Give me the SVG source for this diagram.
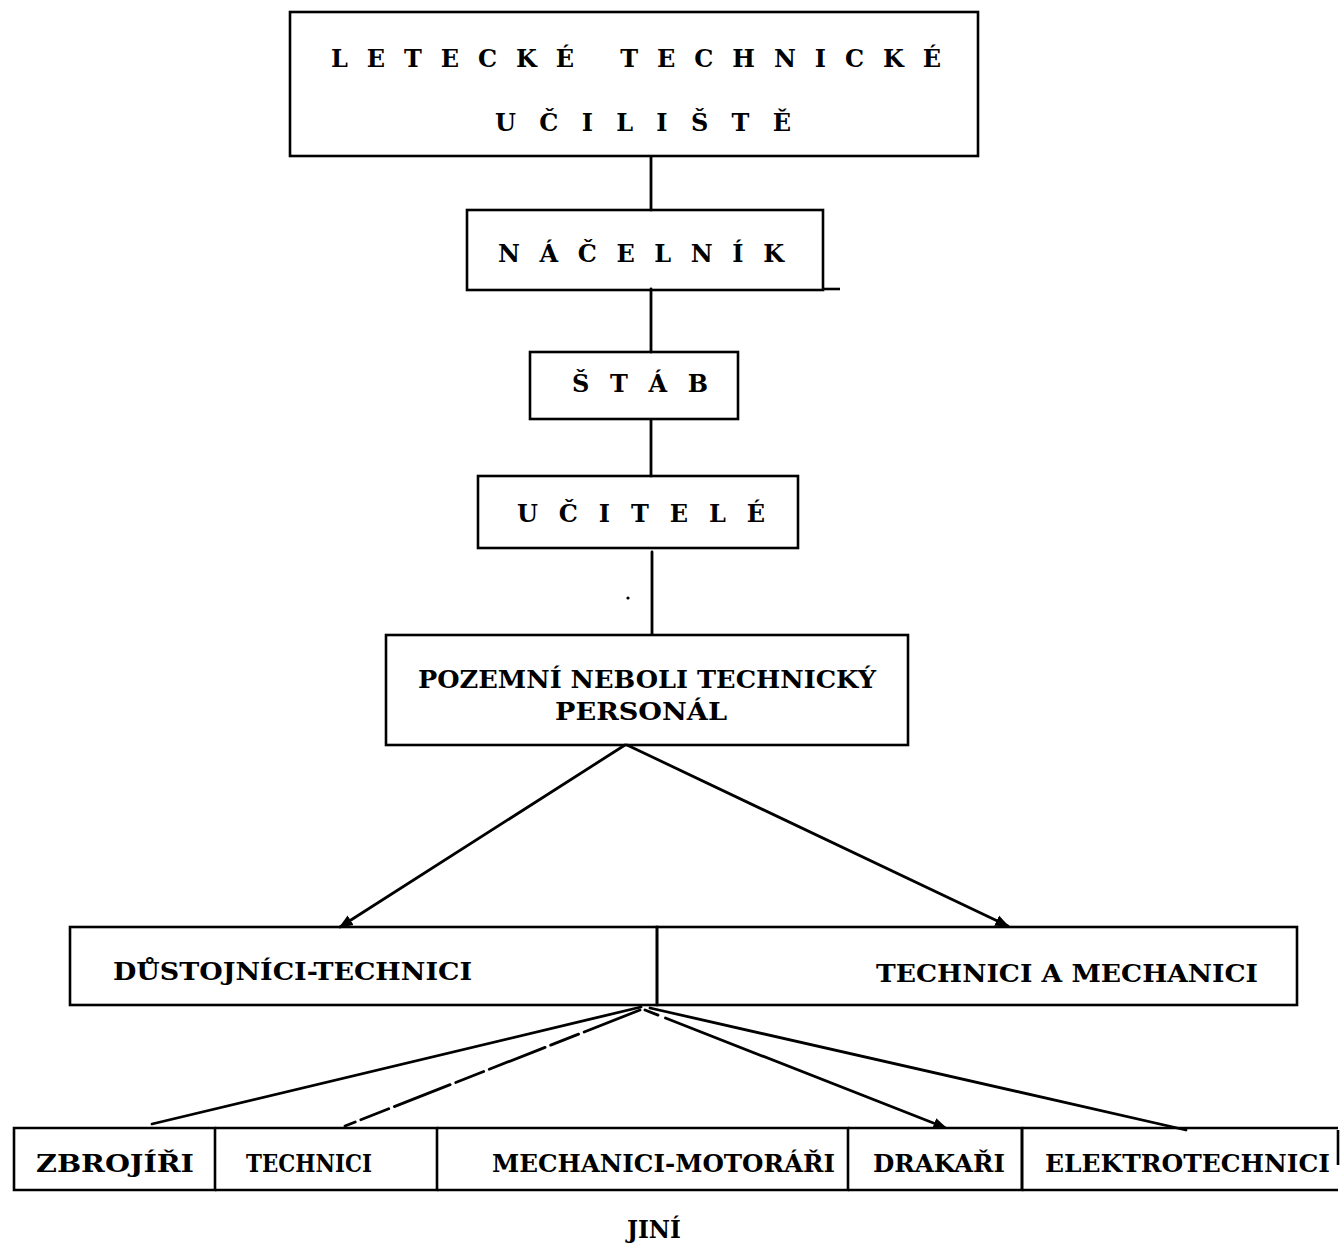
<svg xmlns="http://www.w3.org/2000/svg" width="1344" height="1248" viewBox="0 0 1344 1248">
  <style>
    .box { fill: none; stroke: #000; stroke-width: 2.6; }
    .edge { fill: none; stroke: #000; stroke-width: 2.8; stroke-linecap: round; }
    .t { font-family: "DejaVu Serif", "Liberation Serif", serif; font-weight: bold; fill: #000; white-space: pre; }
  </style>
  <defs>
    <marker id="arrow" viewBox="0 0 10 10" refX="9" refY="5" markerWidth="5" markerHeight="5" orient="auto">
      <path d="M0,1 L10,5 L0,9 Z" fill="#000"/>
    </marker>
  </defs>
  <rect width="1344" height="1248" fill="#fff"/>

  <!-- connectors -->
  <g id="connectors">
    <line class="edge" x1="651" y1="157" x2="651" y2="210"/>
    <line class="edge" x1="651" y1="289" x2="651" y2="352"/>
    <line class="edge" x1="651" y1="420" x2="651" y2="476"/>
    <line class="edge" x1="652" y1="552" x2="652" y2="634"/>
    <line class="edge" x1="625" y1="745" x2="340" y2="927" marker-end="url(#arrow)"/>
    <line class="edge" x1="627" y1="745" x2="1008" y2="926" marker-end="url(#arrow)"/>
    <line class="edge" x1="641" y1="1007" x2="152" y2="1124"/>
    <line class="edge" x1="640" y1="1010" x2="345" y2="1126" stroke-dasharray="60 6 30 6"/>
    <line class="edge" x1="645" y1="1010" x2="946" y2="1128" marker-end="url(#arrow)" stroke-dasharray="14 8 300 4"/>
    <line class="edge" x1="650" y1="1008" x2="1186" y2="1130"/>
  </g>

  <g id="n-uciliste">
    <rect class="box" x="290" y="12" width="688" height="144"/>
    <text class="t" xml:space="preserve" x="331" y="67" font-size="24" textLength="610" lengthAdjust="spacing">L E T E C K É   T E C H N I C K É</text>
    <text class="t" x="495" y="131" font-size="24" textLength="296" lengthAdjust="spacing">U Č I L I Š T Ě</text>
  </g>

  <g id="n-nacelnik">
    <rect class="box" x="467" y="210" width="356" height="80"/>
    <line class="box" x1="823" y1="289" x2="840" y2="289"/>
    <text class="t" x="498" y="262" font-size="24" textLength="286" lengthAdjust="spacing">N Á Č E L N Í K</text>
  </g>

  <g id="n-stab">
    <rect class="box" x="530" y="352" width="208" height="67"/>
    <text class="t" x="572" y="392" font-size="24" textLength="136" lengthAdjust="spacing">Š T Á B</text>
  </g>

  <g id="n-ucitele">
    <rect class="box" x="478" y="476" width="320" height="72"/>
    <text class="t" x="517" y="522" font-size="24" textLength="248" lengthAdjust="spacing">U Č I T E L É</text>
  </g>
  <circle cx="628" cy="598" r="1.6" fill="#000"/>

  <g id="n-personal">
    <rect class="box" x="386" y="635" width="522" height="110"/>
    <text class="t" x="418" y="688" font-size="25" textLength="458" lengthAdjust="spacingAndGlyphs">POZEMNÍ NEBOLI TECHNICKÝ</text>
    <text class="t" x="555" y="720" font-size="25" textLength="172" lengthAdjust="spacingAndGlyphs">PERSONÁL</text>
  </g>

  <g id="n-dustojnici">
    <rect class="box" x="70" y="927" width="587" height="78"/>
    <text class="t" x="113" y="980" font-size="25" textLength="359" lengthAdjust="spacingAndGlyphs">DŮSTOJNÍCI-TECHNICI</text>
  </g>

  <g id="n-technici-mechanici">
    <rect class="box" x="657" y="927" width="640" height="78"/>
    <text class="t" xml:space="preserve" x="876" y="982" font-size="25" textLength="382" lengthAdjust="spacingAndGlyphs">TECHNICI A MECHANICI</text>
  </g>

  <g id="n-zbrojiri">
    <path class="box" d="M14,1128 H215 V1190 H14 Z"/>
    <text class="t" x="36" y="1172" font-size="24" textLength="158" lengthAdjust="spacingAndGlyphs">ZBROJÍŘI</text>
  </g>

  <g id="n-technici">
    <path class="box" d="M215,1128 H437 V1190 H215"/>
    <text class="t" x="246" y="1172" font-size="24" textLength="126" lengthAdjust="spacingAndGlyphs">TECHNICI</text>
  </g>

  <g id="n-motorari">
    <path class="box" d="M437,1128 H848 V1190 H437"/>
    <text class="t" x="492" y="1172" font-size="24" textLength="343" lengthAdjust="spacingAndGlyphs">MECHANICI-MOTORÁŘI</text>
  </g>

  <g id="n-drakari">
    <path class="box" d="M848,1128 H1022 V1190 H848"/>
    <text class="t" x="873" y="1172" font-size="24" textLength="132" lengthAdjust="spacingAndGlyphs">DRAKAŘI</text>
  </g>

  <g id="n-elektrotechnici">
    <path class="box" d="M1022,1128 H1338 M1338,1130 V1165 M1022,1190 H1338 M1022,1128 V1190"/>
    <text class="t" x="1045" y="1172" font-size="24" textLength="285" lengthAdjust="spacingAndGlyphs">ELEKTROTECHNICI</text>
  </g>

  <g id="n-jini">
    <text class="t" x="627" y="1238" font-size="24" textLength="54" lengthAdjust="spacingAndGlyphs">JINÍ</text>
  </g>
</svg>
